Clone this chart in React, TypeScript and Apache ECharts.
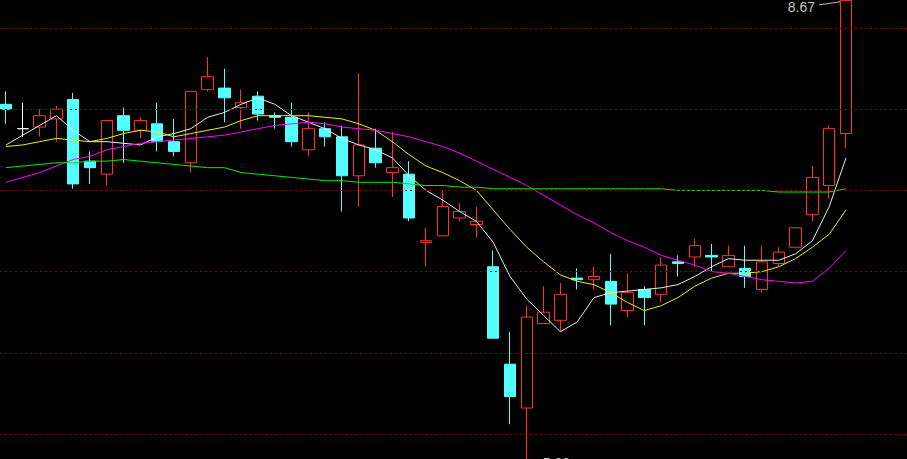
import React, { useEffect, useRef } from 'react';
import * as echarts from 'echarts';

// Trading days shown (51 candles) plus empty slots to the right edge
const dayLabels: string[] = [
  'D01','D02','D03','D04','D05','D06','D07','D08','D09','D10',
  'D11','D12','D13','D14','D15','D16','D17','D18','D19','D20',
  'D21','D22','D23','D24','D25','D26','D27','D28','D29','D30',
  'D31','D32','D33','D34','D35','D36','D37','D38','D39','D40',
  'D41','D42','D43','D44','D45','D46','D47','D48','D49','D50',
  'D51','', '', '',
];

// [open, close, low, high]
const ohlc: number[][] = [
  [8.03, 8.00, 7.91, 8.11],
  [7.88, 7.88, 7.83, 8.04],
  [7.89, 7.96, 7.83, 8.00],
  [7.94, 8.00, 7.80, 8.02],
  [8.06, 7.54, 7.51, 8.10],
  [7.68, 7.64, 7.54, 7.74],
  [7.60, 7.93, 7.53, 7.93],
  [7.96, 7.87, 7.67, 8.01],
  [7.87, 7.93, 7.82, 7.95],
  [7.91, 7.80, 7.74, 8.04],
  [7.80, 7.74, 7.71, 7.94],
  [7.67, 8.11, 7.61, 8.11],
  [8.12, 8.20, 8.11, 8.32],
  [8.13, 8.07, 7.92, 8.25],
  [8.01, 8.04, 7.88, 8.12],
  [8.08, 7.97, 7.93, 8.11],
  [7.96, 7.95, 7.88, 7.98],
  [7.95, 7.80, 7.77, 8.04],
  [7.75, 7.88, 7.71, 7.98],
  [7.88, 7.83, 7.77, 7.92],
  [7.83, 7.59, 7.37, 7.90],
  [7.59, 7.78, 7.40, 8.22],
  [7.76, 7.67, 7.64, 7.88],
  [7.61, 7.64, 7.46, 7.86],
  [7.60, 7.33, 7.31, 7.68],
  [7.18, 7.19, 7.03, 7.27],
  [7.22, 7.40, 7.22, 7.50],
  [7.33, 7.37, 7.31, 7.42],
  [7.29, 7.31, 7.21, 7.40],
  [7.03, 6.59, 6.59, 7.13],
  [6.43, 6.23, 6.06, 6.63],
  [6.16, 6.72, 5.83, 6.79],
  [6.68, 6.75, 6.68, 6.91],
  [6.70, 6.86, 6.63, 6.93],
  [6.96, 6.95, 6.89, 7.02],
  [6.95, 6.97, 6.89, 7.03],
  [6.94, 6.80, 6.67, 7.11],
  [6.76, 6.87, 6.72, 6.99],
  [6.89, 6.84, 6.67, 6.91],
  [6.86, 7.04, 6.81, 7.09],
  [7.06, 7.05, 6.97, 7.10],
  [7.09, 7.16, 7.03, 7.20],
  [7.10, 7.09, 7.00, 7.17],
  [7.03, 7.10, 7.03, 7.16],
  [7.02, 6.97, 6.90, 7.16],
  [6.89, 7.06, 6.87, 7.16],
  [7.05, 7.12, 7.03, 7.15],
  [7.15, 7.27, 7.15, 7.27],
  [7.35, 7.58, 7.31, 7.65],
  [7.53, 7.88, 7.45, 7.90],
  [7.85, 8.67, 7.76, 8.67],
];

const ma5: number[] = [
  7.78, 7.84, 7.90, 7.96, 7.87, 7.80, 7.80, 7.79, 7.78, 7.83,
  7.85, 7.88, 7.95, 7.98, 8.03, 8.07, 8.03, 7.96, 7.92, 7.88,
  7.82, 7.78, 7.75, 7.70, 7.59, 7.50, 7.44, 7.37, 7.31, 7.18,
  6.97, 6.83, 6.73, 6.63, 6.69, 6.84, 6.87, 6.88, 6.89, 6.90,
  6.92, 6.97, 7.03, 7.08, 7.07, 7.07, 7.07, 7.11, 7.19, 7.40,
  7.70,
];

const ma10: number[] = [
  7.77, 7.78, 7.80, 7.82, 7.81, 7.80, 7.82, 7.85, 7.87, 7.86,
  7.83, 7.85, 7.87, 7.89, 7.93, 7.96, 7.96, 7.96, 7.96, 7.95,
  7.94, 7.91, 7.87, 7.80, 7.72, 7.65, 7.61, 7.56, 7.50, 7.38,
  7.26, 7.15, 7.06, 6.98, 6.94, 6.92, 6.87, 6.81, 6.76, 6.79,
  6.84, 6.91, 6.96, 6.99, 6.99, 7.00, 7.03, 7.08, 7.15, 7.23,
  7.38,
];

const ma20: number[] = [
  7.55, 7.58, 7.61, 7.65, 7.69, 7.71, 7.75, 7.77, 7.79, 7.80,
  7.81, 7.82, 7.83, 7.84, 7.86, 7.88, 7.90, 7.91, 7.92, 7.91,
  7.89, 7.88, 7.87, 7.85, 7.83, 7.80, 7.77, 7.73, 7.68, 7.63,
  7.58, 7.53, 7.47, 7.41, 7.35, 7.30, 7.24, 7.19, 7.15, 7.10,
  7.07, 7.04, 7.00, 6.99, 6.97, 6.95, 6.94, 6.93, 6.94, 7.02,
  7.13,
];

const ma60: number[] = [
  7.64, 7.65, 7.66, 7.67, 7.67, 7.68, 7.68, 7.69, 7.68, 7.67,
  7.66, 7.65, 7.64, 7.64, 7.61, 7.60, 7.59, 7.58, 7.57, 7.56,
  7.56, 7.55, 7.55, 7.55, 7.54, 7.53, 7.53, 7.52, 7.52, 7.51,
  7.51, 7.51, 7.51, 7.51, 7.51, 7.51, 7.51, 7.51, 7.51, 7.51,
  7.50, 7.50, 7.50, 7.50, 7.50, 7.50, 7.49, 7.49, 7.49, 7.49,
  7.51,
];

const gridPrices: number[] = [6.0, 6.5, 7.0, 7.5, 8.0, 8.5];

const highMark = { index: 50, price: 8.67, text: '8.67' };
const lowMark = { index: 31, price: 5.83, text: '5.83' };

const yMin = 5.8461;
const yMax = 8.6724;

const RED = '#ff3232';
const CYAN = '#54ffff';

export default function App() {
  const ref = useRef<HTMLDivElement>(null);

  useEffect(() => {
    document.body.style.margin = '0';
    document.body.style.background = '#000';
    if (!ref.current) return;
    const chart = echarts.init(ref.current, undefined, { renderer: 'svg' });

    const candleData = ohlc.map((v) => {
      if (v[0] === v[1]) {
        return {
          value: v,
          itemStyle: { borderColor: '#ffffff', borderColor0: '#ffffff', color: '#ffffff', color0: '#ffffff' },
        };
      }
      return v;
    });

    const lineSeries = (name: string, data: number[], color: string) => ({
      name,
      type: 'line',
      data,
      showSymbol: false,
      symbol: 'none',
      smooth: false,
      clip: false,
      z: 3,
      lineStyle: { color, width: 1 },
      silent: true,
    });

    chart.setOption({
      animation: false,
      backgroundColor: '#000000',
      grid: [
        { left: 6, right: 10.6, top: 0, bottom: 0, containLabel: false },
        { left: 0, right: 0, top: 0, bottom: 0, containLabel: false },
      ],
      xAxis: [
        {
          type: 'category',
          data: dayLabels,
          boundaryGap: false,
          show: false,
          gridIndex: 0,
        },
        { type: 'value', min: 0, max: 1, show: false, gridIndex: 1, splitLine: { show: false } },
      ],
      yAxis: [
        { type: 'value', min: yMin, max: yMax, show: false, splitLine: { show: false }, gridIndex: 0 },
        { type: 'value', min: yMin, max: yMax, show: false, splitLine: { show: false }, gridIndex: 1 },
      ],
      series: [
        {
          name: 'grid',
          type: 'line',
          xAxisIndex: 1,
          yAxisIndex: 1,
          data: [[0, yMin], [1, yMin]],
          showSymbol: false,
          symbol: 'none',
          lineStyle: { opacity: 0, width: 0 },
          z: 0,
          silent: true,
          markLine: {
            silent: true,
            symbol: ['none', 'none'],
            label: { show: false },
            lineStyle: { color: '#8a0000', type: [2, 3], width: 1 },
            data: gridPrices.map((p) => ({ yAxis: p })),
          },
        },
        {
          name: 'K',
          type: 'candlestick',
          data: candleData,
          barWidth: 12,
          clip: false,
          z: 2,
          silent: true,
          itemStyle: {
            color: '#000000',
            color0: CYAN,
            borderColor: RED,
            borderColor0: CYAN,
            borderWidth: 1,
          },
        },
        lineSeries('MA5', ma5, '#ececec'),
        lineSeries('MA10', ma10, '#f0f000'),
        lineSeries('MA20', ma20, '#ff00ff'),
        lineSeries('MA60', ma60, '#00ee00'),
      ],
    });

    const hp = chart.convertToPixel({ seriesIndex: 1 }, [highMark.index, highMark.price]) as number[];
    const lp = chart.convertToPixel({ seriesIndex: 1 }, [lowMark.index, lowMark.price]) as number[];
    const font = '14px "Liberation Sans", Arial, sans-serif';
    chart.setOption({
      graphic: [
        {
          type: 'line',
          shape: { x1: hp[0] - 27, y1: hp[1] + 4.5, x2: hp[0] - 3, y2: hp[1] + 1 },
          style: { stroke: '#b8b8b8', lineWidth: 1 },
          silent: true,
        },
        {
          type: 'polyline',
          shape: { points: [[hp[0] - 7, hp[1] + 1], [hp[0] - 3, hp[1] + 1], [hp[0] - 6, hp[1] + 4]] },
          style: { stroke: '#b8b8b8', lineWidth: 1, fill: 'none' },
          silent: true,
        },
        {
          type: 'text',
          x: hp[0] - 31,
          y: hp[1] + 7,
          style: {
            text: highMark.text,
            fill: '#c0c0c0',
            font,
            align: 'right',
            verticalAlign: 'middle',
          },
          silent: true,
        },
        {
          type: 'line',
          shape: { x1: lp[0] + 1, y1: lp[1], x2: lp[0] + 13, y2: lp[1] },
          style: { stroke: '#b8b8b8', lineWidth: 1 },
          silent: true,
        },
        {
          type: 'text',
          x: lp[0] + 16,
          y: lp[1] + 1,
          style: {
            text: lowMark.text,
            fill: '#c0c0c0',
            font,
            align: 'left',
            verticalAlign: 'middle',
          },
          silent: true,
        },
      ],
    });

    return () => {
      chart.dispose();
    };
  }, []);

  return (
    <div
      ref={ref}
      style={{ position: 'fixed', left: 0, top: 0, width: 907, height: 459, background: '#000' }}
    />
  );
}
